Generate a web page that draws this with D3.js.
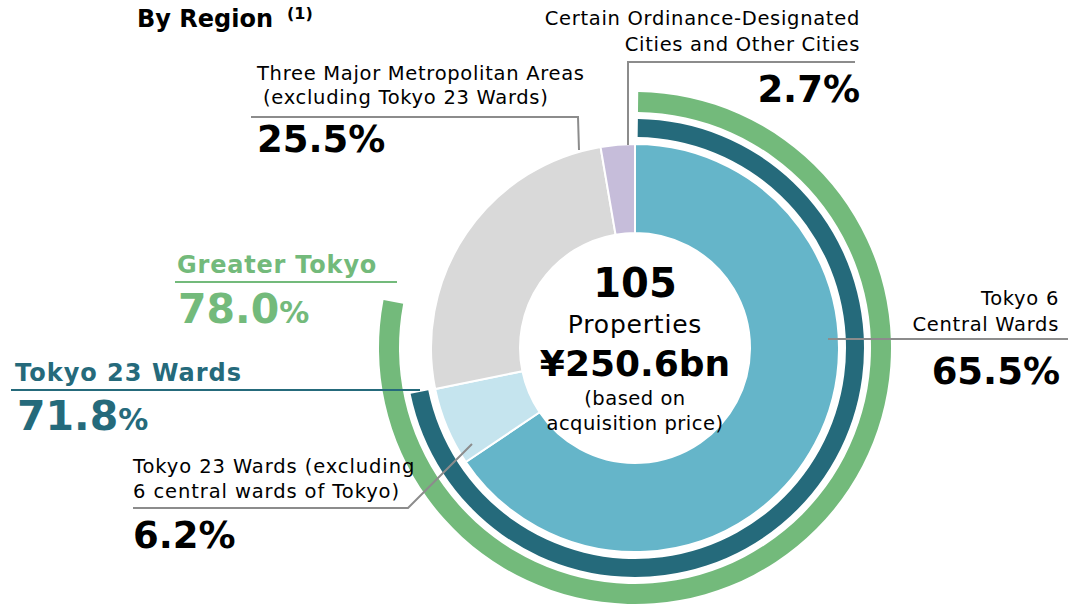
<!DOCTYPE html>
<html>
<head>
<meta charset="utf-8">
<script src="https://cdn.jsdelivr.net/npm/d3@7"></script>
<style>
  body { margin: 0; background: #fff; }
  text { font-family: "DejaVu Sans", Verdana, sans-serif; }
</style>
</head>
<body>
<script>
var WIDTH = 1072,
    HEIGHT = 605;

// pie slices, clockwise from 12 o'clock
var regions = [
  "Tokyo 6 Central Wards",
  "Tokyo 23 Wards (excluding 6 central wards of Tokyo)",
  "Three Major Metropolitan Areas (excluding Tokyo 23 Wards)",
  "Certain Ordinance-Designated Cities and Other Cities"
];
var shares = [65.5, 6.2, 25.5, 2.7];
var sliceColors = ["#65b5c9", "#c5e4ee", "#d9d9d9", "#c6bdda"];

// cumulative rings outside the pie
var ringNames = ["Tokyo 23 Wards", "Greater Tokyo"];
var ringShares = [71.8, 78.0];
var ringColors = ["#256a7b", "#73ba7b"];

var totalProperties = 105,
    totalPrice = "¥250.6bn";

var cx = 635, cy = 348;

var svg = d3.select("body").append("svg")
    .attr("width", WIDTH)
    .attr("height", HEIGHT);

var g = svg.append("g").attr("transform", "translate(" + cx + "," + cy + ")");

var pie = d3.pie().sort(null).value(function(d) { return d; });
var arc = d3.arc().innerRadius(115).outerRadius(204);

g.selectAll(".slice").data(pie(shares))
  .enter().append("path")
  .attr("class", "slice")
  .attr("d", arc)
  .style("fill", function(d, i) { return sliceColors[i]; })
  .style("stroke", "#fff")
  .style("stroke-width", 2);

var angle = d3.scaleLinear().domain([0, 100]).range([0, 2 * Math.PI]);
var ringRadii = [[211, 229], [236, 256]];

g.selectAll(".ring").data(ringShares)
  .enter().append("path")
  .attr("class", "ring")
  .attr("d", function(d, i) {
    return d3.arc()
      .innerRadius(ringRadii[i][0])
      .outerRadius(ringRadii[i][1])
      .startAngle(angle(0.2))
      .endAngle(angle(d))();
  })
  .style("fill", function(d, i) { return ringColors[i]; });

// title
svg.append("text").attr("x", 137).attr("y", 27)
  .style("font-size", "24px").style("font-weight", "bold").text("By Region");
svg.append("text").attr("x", 287).attr("y", 19)
  .style("font-size", "16px").style("font-weight", "bold").text("(1)");

// leader lines
function line(pts, color, w) {
  svg.append("path")
    .attr("d", d3.line()(pts))
    .style("fill", "none")
    .style("stroke", color)
    .style("stroke-width", w || 2);
}

line([[855, 62], [628, 62], [628, 145]], "#8c8c8c");
line([[251, 117], [578, 117], [579, 150]], "#8c8c8c");
line([[828, 339], [1068, 339]], "#8c8c8c");
line([[133, 508], [408, 508], [472, 444]], "#8c8c8c");
line([[175, 282], [397, 282]], ringColors[1]);
line([[11, 390], [420, 390]], ringColors[0]);

function lines(x, y, arr, size, anchor, weight, color, step, spacing) {
  arr.forEach(function(t, i) {
    svg.append("text")
      .attr("x", x).attr("y", y + i * (step || 0))
      .attr("text-anchor", anchor)
      .style("font-size", size + "px")
      .style("font-weight", weight || "normal")
      .style("letter-spacing", (spacing || 0) + "px")
      .style("fill", color || "#000")
      .text(t);
  });
}

var LS = 0.7;

lines(860, 25, ["Certain Ordinance-Designated", "Cities and Other Cities"], 19.5, "end", null, "#000", 26, LS);
lines(860, 102, [shares[3].toFixed(1) + "%"], 37, "end", "bold");

lines(257, 80, ["Three Major Metropolitan Areas"], 19.5, "start", null, "#000", 0, LS);
lines(263, 104, ["(excluding Tokyo 23 Wards)"], 19.5, "start", null, "#000", 0, LS);
lines(257, 152, [shares[2].toFixed(1) + "%"], 37, "start", "bold");

lines(1059, 305, ["Tokyo 6", "Central Wards"], 19.5, "end", null, "#000", 26, LS);
lines(1060, 384, [shares[0].toFixed(1) + "%"], 37, "end", "bold");

lines(133, 473, ["Tokyo 23 Wards (excluding", "6 central wards of Tokyo)"], 19.5, "start", null, "#000", 25, 0.9);
lines(133, 548, [shares[1].toFixed(1) + "%"], 37, "start", "bold");

// ring labels with smaller % sign
function bigPct(x, y, v, color) {
  var t = svg.append("text").attr("x", x).attr("y", y)
    .style("font-weight", "bold").style("fill", color);
  t.append("tspan").style("font-size", "41px").text(v.toFixed(1));
  t.append("tspan").style("font-size", "30px").text("%");
}

lines(177, 273, [ringNames[1]], 24, "start", "bold", ringColors[1], 0, 0.8);
bigPct(178, 323, ringShares[1], ringColors[1]);
lines(15, 381, [ringNames[0]], 24, "start", "bold", ringColors[0], 0, 1);
bigPct(17, 430, ringShares[0], ringColors[0]);

// centre
lines(cx, 297, [totalProperties], 40, "middle", "bold");
lines(cx, 333, ["Properties"], 25, "middle", null, "#000", 0, 0.8);
lines(cx, 376, [totalPrice], 36, "middle", "bold");
lines(cx, 405, ["(based on", "acquisition price)"], 19.5, "middle", null, "#000", 25, 0.5);
</script>
</body>
</html>
